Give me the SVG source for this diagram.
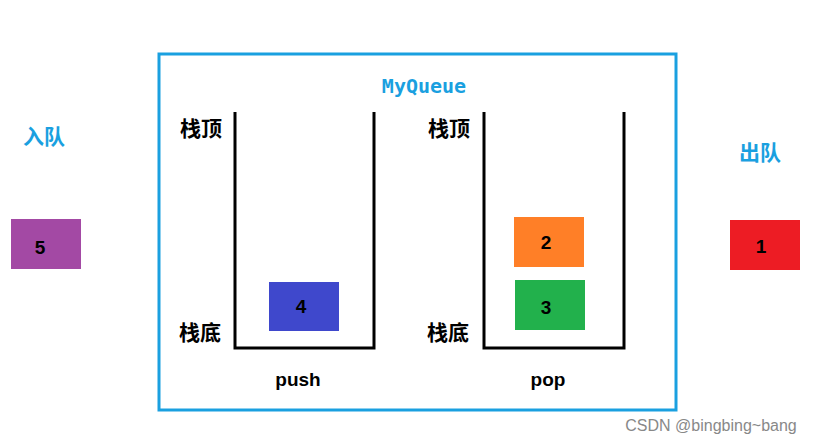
<svg xmlns="http://www.w3.org/2000/svg" width="823" height="444" viewBox="0 0 823 444">
<style>
.lbl{font-family:"Noto Sans CJK SC","Noto Sans",sans-serif;font-weight:bold;font-size:21px;fill:#000;text-anchor:middle}
.blue{fill:#1aa0e0}
.num{font-family:"Liberation Sans",sans-serif;font-weight:bold;font-size:19px;fill:#000;text-anchor:middle}
.st{fill:none;stroke:#000;stroke-width:3}
</style>
<rect width="823" height="444" fill="#fff"/>
<g id="queue"><rect x="159" y="54" width="517" height="356" fill="none" stroke="#1aa0e0" stroke-width="3"/>
<text x="424" y="93" font-family="'DejaVu Sans Mono',monospace" font-weight="bold" font-size="20" fill="#1aa0e0" text-anchor="middle">MyQueue</text></g>
<g id="pushStack"><path class="st" d="M235 112V348H374V112"/>
<text class="lbl" x="201" y="136">栈顶</text><text class="lbl" x="200" y="340">栈底</text>
<text class="num" x="298" y="386">push</text></g>
<g id="popStack"><path class="st" d="M484 112V348H624V112"/>
<text class="lbl" x="449" y="136">栈顶</text><text class="lbl" x="448" y="340">栈底</text>
<text class="num" x="548" y="386">pop</text></g>
<g id="n4"><rect x="269" y="282" width="70" height="49" fill="#3f48cc"/><text class="num" x="301" y="313">4</text></g>
<g id="n2"><rect x="514" y="217" width="70" height="50" fill="#ff7f27"/><text class="num" x="546" y="249">2</text></g>
<g id="n3"><rect x="515" y="280" width="70" height="50" fill="#22b14c"/><text class="num" x="546" y="314">3</text></g>
<g id="n5"><rect x="11" y="219" width="70" height="50" fill="#a349a4"/><text class="num" x="40" y="254">5</text></g>
<g id="n1"><rect x="730" y="220" width="70" height="50" fill="#ed1c24"/><text class="num" x="761" y="253">1</text></g>
<g id="labels"><text class="lbl blue" x="44" y="144">入队</text><text class="lbl blue" x="760" y="160">出队</text></g>
<g id="connectors"/>
<text x="711" y="431" font-family="'Liberation Sans',sans-serif" font-size="16" fill="#888" text-anchor="middle">CSDN @bingbing~bang</text>
</svg>
